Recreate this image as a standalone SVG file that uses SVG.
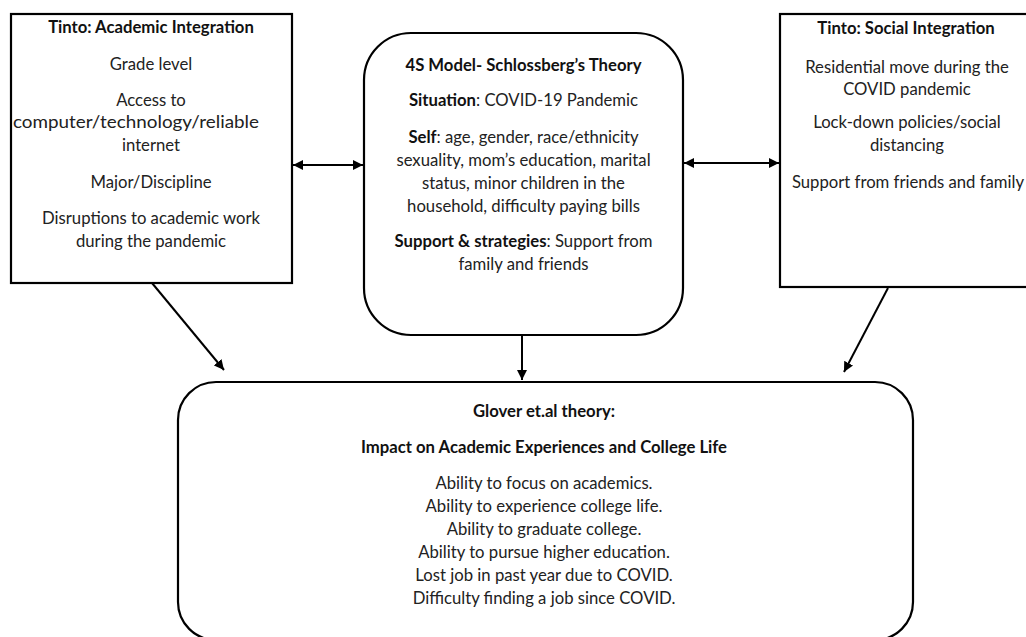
<svg xmlns="http://www.w3.org/2000/svg" width="1026" height="637" viewBox="0 0 1026 637">
<style>
.box{fill:#fff;stroke:#000;stroke-width:2.2}
.t{font-family:Lato,"Liberation Sans",sans-serif;font-size:16.7px;fill:#222;text-anchor:middle}
.b{font-weight:bold;fill:#111}
.c{stroke:#000;stroke-width:2;fill:none}
</style>
<defs>
<marker id="ah" viewBox="0 0 10 10" refX="10" refY="5" markerWidth="5" markerHeight="5" orient="auto-start-reverse" markerUnits="strokeWidth">
<path d="M0,0 L10,5 L0,10 z" fill="#000"/>
</marker>
</defs>
<rect width="1026" height="637" fill="#fff"/>
<g id="academic">
<rect class="box" x="11" y="14" width="281" height="269"/>
<text class="t b" x="151" y="33">Tinto: Academic Integration</text>
<text class="t" x="151" y="70">Grade level</text>
<text class="t" x="151" y="106">Access to</text>
<text class="t" x="136" y="128" textLength="246" lengthAdjust="spacingAndGlyphs">computer/technology/reliable</text>
<text class="t" x="151" y="151">internet</text>
<text class="t" x="151" y="188">Major/Discipline</text>
<text class="t" x="151" y="224">Disruptions to academic work</text>
<text class="t" x="151" y="247">during the pandemic</text>
</g>
<g id="schlossberg">
<rect class="box" x="364" y="33" width="319" height="302" rx="47" ry="47"/>
<text class="t b" x="523.5" y="71">4S Model- Schlossberg’s Theory</text>
<text class="t" x="523.5" y="106"><tspan class="b">Situation</tspan>: COVID-19 Pandemic</text>
<text class="t" x="523.5" y="143"><tspan class="b">Self</tspan>: age, gender, race/ethnicity</text>
<text class="t" x="523.5" y="166">sexuality, mom’s education, marital</text>
<text class="t" x="523.5" y="189">status, minor children in the</text>
<text class="t" x="523.5" y="212">household, difficulty paying bills</text>
<text class="t" x="523.5" y="247"><tspan class="b">Support &amp; strategies</tspan>: Support from</text>
<text class="t" x="523.5" y="270">family and friends</text>
</g>
<g id="social">
<rect class="box" x="780" y="14" width="260" height="273"/>
<text class="t b" x="906" y="34">Tinto: Social Integration</text>
<text class="t" x="907" y="73">Residential move during the</text>
<text class="t" x="907" y="95">COVID pandemic</text>
<text class="t" x="907" y="128">Lock-down policies/social</text>
<text class="t" x="907" y="151">distancing</text>
<text class="t" x="908" y="188">Support from friends and family</text>
</g>
<g id="glover">
<rect class="box" x="178" y="382" width="735" height="258" rx="38" ry="38"/>
<text class="t b" x="544" y="417">Glover et.al theory:</text>
<text class="t b" x="544" y="453">Impact on Academic Experiences and College Life</text>
<text class="t" x="544" y="489">Ability to focus on academics.</text>
<text class="t" x="544" y="512">Ability to experience college life.</text>
<text class="t" x="544" y="535">Ability to graduate college.</text>
<text class="t" x="544" y="558">Ability to pursue higher education.</text>
<text class="t" x="544" y="581">Lost job in past year due to COVID.</text>
<text class="t" x="544" y="604">Difficulty finding a job since COVID.</text>
</g>
<g id="connectors">
<line class="c" x1="293" y1="165" x2="363" y2="165" marker-start="url(#ah)" marker-end="url(#ah)"/>
<line class="c" x1="684" y1="163" x2="779" y2="163" marker-start="url(#ah)" marker-end="url(#ah)"/>
<line class="c" x1="152" y1="283" x2="224" y2="370" marker-end="url(#ah)"/>
<line class="c" x1="522" y1="336" x2="522" y2="380" marker-end="url(#ah)"/>
<line class="c" x1="888" y1="288" x2="844" y2="372" marker-end="url(#ah)"/>
</g>
</svg>
